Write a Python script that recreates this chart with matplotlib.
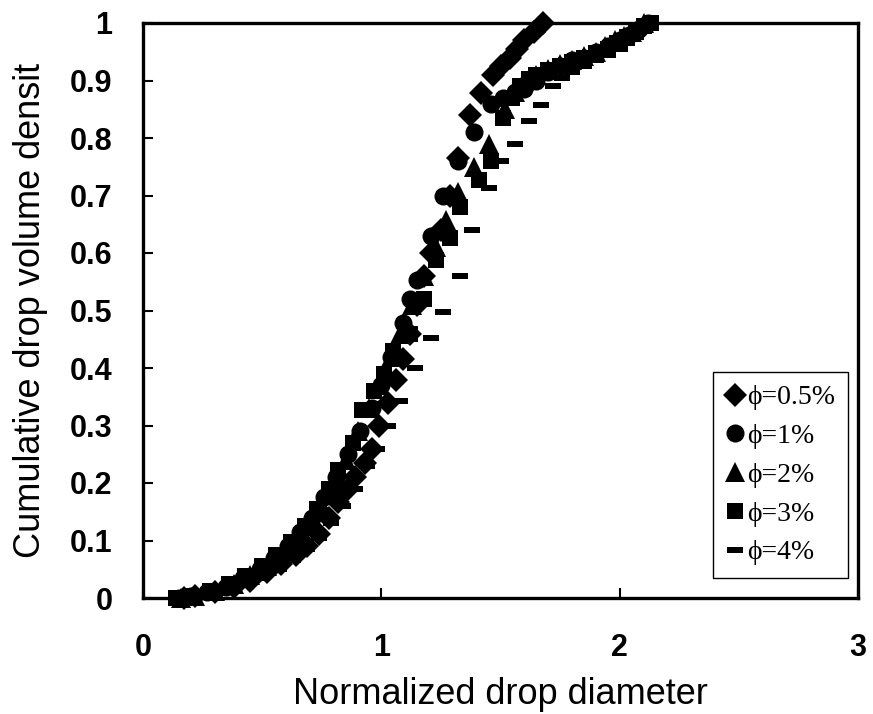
import matplotlib
matplotlib.use("Agg")
import matplotlib.pyplot as plt
from matplotlib.ticker import FixedLocator

# Cumulative drop volume density vs normalized drop diameter, per dispersed-phase fraction
x_05 = [0.17, 0.22, 0.30, 0.38, 0.45, 0.52, 0.58, 0.64, 0.69, 0.74, 0.78, 0.82, 0.86, 0.89,
        0.93, 0.96, 0.99, 1.03, 1.06, 1.09, 1.12, 1.15, 1.18, 1.21, 1.25, 1.29, 1.32, 1.37,
        1.42, 1.47, 1.50, 1.54, 1.57, 1.60, 1.64, 1.68]
y_05 = [0.0, 0.003, 0.010, 0.020, 0.030, 0.045, 0.060, 0.075, 0.090, 0.112, 0.140, 0.167, 0.190, 0.210,
        0.235, 0.260, 0.300, 0.340, 0.380, 0.415, 0.460, 0.510, 0.560, 0.600, 0.640, 0.700, 0.765, 0.840,
        0.878, 0.910, 0.925, 0.940, 0.955, 0.970, 0.985, 1.0]

x_1 = [0.15, 0.20, 0.27, 0.35, 0.42, 0.49, 0.55, 0.61, 0.66, 0.71, 0.76, 0.81, 0.86, 0.91, 0.96,
       1.00, 1.04, 1.09, 1.12, 1.15, 1.21, 1.26, 1.32, 1.39, 1.46, 1.51, 1.56, 1.60, 1.65, 1.70,
       1.75, 1.80, 1.85, 1.90, 1.95, 2.00, 2.04, 2.08, 2.12]
y_1 = [0.0, 0.003, 0.010, 0.020, 0.035, 0.050, 0.070, 0.090, 0.115, 0.140, 0.175, 0.210, 0.250, 0.290, 0.330,
       0.370, 0.420, 0.478, 0.520, 0.553, 0.630, 0.700, 0.760, 0.810, 0.860, 0.870, 0.880, 0.885, 0.900, 0.915,
       0.925, 0.935, 0.940, 0.950, 0.960, 0.970, 0.980, 0.990, 1.0]

x_2 = [0.16, 0.22, 0.30, 0.38, 0.45, 0.52, 0.58, 0.64, 0.70, 0.75, 0.80, 0.85, 0.90, 0.95, 0.99,
       1.04, 1.08, 1.13, 1.18, 1.23, 1.27, 1.32, 1.39, 1.45, 1.52, 1.56, 1.60, 1.65, 1.70, 1.75,
       1.80, 1.85, 1.90, 1.94, 1.98, 2.02, 2.05, 2.10]
y_2 = [0.0, 0.004, 0.012, 0.025, 0.040, 0.055, 0.075, 0.100, 0.130, 0.160, 0.200, 0.240, 0.290, 0.330, 0.370,
       0.420, 0.460, 0.510, 0.560, 0.610, 0.657, 0.706, 0.750, 0.790, 0.850, 0.880, 0.900, 0.910, 0.920, 0.928,
       0.935, 0.942, 0.950, 0.960, 0.970, 0.978, 0.985, 1.0]

x_3 = [0.14, 0.20, 0.28, 0.36, 0.43, 0.50, 0.56, 0.62, 0.68, 0.73, 0.78, 0.82, 0.88, 0.92, 0.97,
       1.01, 1.05, 1.12, 1.18, 1.23, 1.29, 1.33, 1.41, 1.46, 1.51, 1.55, 1.58, 1.62, 1.65, 1.70,
       1.75, 1.80, 1.85, 1.90, 1.95, 1.99, 2.03, 2.07, 2.10, 2.13]
y_3 = [0.0, 0.004, 0.012, 0.024, 0.038, 0.055, 0.075, 0.098, 0.125, 0.155, 0.190, 0.223, 0.270, 0.327, 0.360,
       0.390, 0.430, 0.460, 0.520, 0.588, 0.626, 0.680, 0.727, 0.760, 0.835, 0.870, 0.890, 0.903, 0.910, 0.918,
       0.925, 0.932, 0.940, 0.947, 0.955, 0.965, 0.975, 0.985, 0.995, 1.0]

x_4 = [0.20, 0.27, 0.35, 0.43, 0.50, 0.57, 0.63, 0.69, 0.74, 0.79, 0.84, 0.89, 0.94, 0.98, 1.03,
       1.08, 1.14, 1.21, 1.26, 1.33, 1.38, 1.45, 1.50, 1.56, 1.62, 1.67, 1.72, 1.76, 1.80, 1.85,
       1.90, 1.95, 2.00, 2.03, 2.06, 2.09, 2.12]
y_4 = [0.0, 0.005, 0.012, 0.022, 0.035, 0.050, 0.066, 0.085, 0.105, 0.130, 0.160, 0.190, 0.230, 0.260, 0.300,
       0.343, 0.400, 0.452, 0.497, 0.560, 0.640, 0.713, 0.760, 0.790, 0.830, 0.857, 0.890, 0.905, 0.915, 0.925,
       0.935, 0.945, 0.955, 0.965, 0.975, 0.988, 1.0]

labels = ["ϕ=0.5%", "ϕ=1%", "ϕ=2%", "ϕ=3%", "ϕ=4%"]
x_ticks = [0, 1, 2, 3]
y_ticks = [0, 0.1, 0.2, 0.3, 0.4, 0.5, 0.6, 0.7, 0.8, 0.9, 1]
y_tick_labels = ["0", "0.1", "0.2", "0.3", "0.4", "0.5", "0.6", "0.7", "0.8", "0.9", "1"]

# short flat bar used as the marker for the 4% series
dash = [(-1.0, -0.45), (1.0, -0.45), (1.0, 0.45), (-1.0, 0.45), (-1.0, -0.45)]

fig = plt.figure(figsize=(8.73, 7.14), dpi=100)
ax = fig.add_axes([143 / 873, 1 - 598 / 714, 715 / 873, 575 / 714])

series = [
    (x_05, y_05, "D", 12),
    (x_1, y_1, "o", 13),
    (x_2, y_2, "^", 14),
    (x_3, y_3, "s", 12),
    (x_4, y_4, dash, 11),
]
for (xs, ys, mk, ms), lab in zip(series, labels):
    ax.plot(xs, ys, linestyle="none", marker=mk, markersize=ms, color="black",
            markeredgewidth=0, label=lab, clip_on=False, zorder=3)

ax.set_xlim(0, 3)
ax.set_ylim(0, 1)
ax.xaxis.set_major_locator(FixedLocator(x_ticks))
ax.yaxis.set_major_locator(FixedLocator(y_ticks))
ax.set_yticklabels(y_tick_labels)
ax.set_xticklabels([str(v) for v in x_ticks])

for sp in ax.spines.values():
    sp.set_linewidth(2.4)
    sp.set_color("black")

ax.tick_params(axis="y", direction="in", length=7, width=1.5, pad=22)
ax.tick_params(axis="x", direction="in", length=7, width=1.5, pad=25)
for t in ax.get_xticklabels() + ax.get_yticklabels():
    t.set_fontfamily(["Liberation Sans", "DejaVu Sans"])
    t.set_fontsize(22)
    t.set_fontweight("bold")

label_font = dict(family=["Liberation Sans", "DejaVu Sans"], size=26)
fig.text(0.5 * (143 + 858) / 873, 1 - 695 / 714, "Normalized drop diameter",
         ha="center", va="center", **label_font)
fig.text(31 / 873, 1 - 310 / 714, "Cumulative drop volume densit",
         ha="center", va="center", rotation=90, **label_font)

leg = ax.legend(loc="lower right", bbox_to_anchor=(0.986, 0.035), frameon=True,
                fancybox=False, edgecolor="black", framealpha=1,
                prop=dict(family=["Liberation Serif", "DejaVu Serif"], size=20),
                handlelength=0.7, handletextpad=0.1, labelspacing=0.48,
                borderpad=0.45, borderaxespad=0, markerscale=1.0)
leg.get_frame().set_linewidth(1.0)
leg.set_zorder(5)

fig.savefig("out.png", dpi=100, facecolor="white")
